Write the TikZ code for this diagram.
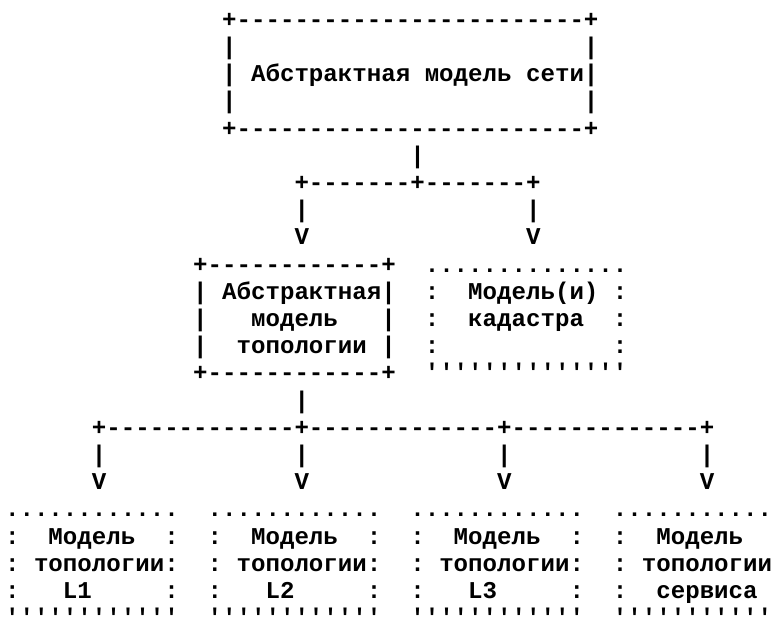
\documentclass[tikz,border=0pt]{standalone}
\usepackage{fontspec}
\setmonofont{Liberation Mono}
\frenchspacing

\begin{document}
\begin{tikzpicture}[x=6pt, y=-11.28pt,
    ascii/.style={anchor=base west, inner sep=0pt, outer sep=0pt, font=\ttfamily\bfseries}]

    \clip (-0.35,0) rectangle (53.13,22.68);

    % top box
    \node[ascii] (n1) at (15,1) {+------------------------+};
    \node[ascii] (n2a) at (15,2) {|};
    \node[ascii] (n2b) at (40,2) {|};
    \node[ascii] (n3) at (15,3) {|~Абстрактная модель сети|};
    \node[ascii] (n4a) at (15,4) {|};
    \node[ascii] (n4b) at (40,4) {|};
    \node[ascii] (n5) at (15,5) {+------------------------+};

    % first split
    \node[ascii] (n6) at (28,6) {|};
    \node[ascii] (n7) at (20,7) {+-------+-------+};
    \node[ascii] (n8a) at (20,8) {|};
    \node[ascii] (n8b) at (36,8) {|};
    \node[ascii] (n9a) at (20,9) {V};
    \node[ascii] (n9b) at (36,9) {V};

    % topology box and cadastre box
    \node[ascii] (n10a) at (13,10) {+------------+};
    \node[ascii] (n10b) at (29,10) {..............};
    \node[ascii] (n11a) at (13,11) {|~Абстрактная|};
    \node[ascii] (n11b) at (29,11) {:~~Модель(и)~:};
    \node[ascii] (n12a) at (13,12) {|~~~модель~~~|};
    \node[ascii] (n12b) at (29,12) {:~~кадастра~~:};
    \node[ascii] (n13a) at (13,13) {|~~топологии~|};
    \node[ascii] (n13b) at (29,13) {:~~~~~~~~~~~~:};
    \node[ascii] (n14a) at (13,14) {+------------+};
    \node[ascii] (n14b) at (29,14) {''''''''''''''};

    % second split
    \node[ascii] (n15) at (20,15) {|};
    \node[ascii] (n16) at (6,16) {+-------------+-------------+-------------+};
    \foreach \c in {6,20,34,48} {
        \node[ascii] (n17-\c) at (\c,17) {|};
        \node[ascii] (n18-\c) at (\c,18) {V};
    }

    % bottom boxes
    \node[ascii] (n19a) at (0,19) {............};
    \node[ascii] (n19b) at (14,19) {............};
    \node[ascii] (n19c) at (28,19) {............};
    \node[ascii] (n19d) at (42,19) {...........};
    \node[ascii] (n20a) at (0,20) {:~~Модель~~:};
    \node[ascii] (n20b) at (14,20) {:~~Модель~~:};
    \node[ascii] (n20c) at (28,20) {:~~Модель~~:};
    \node[ascii] (n20d) at (42,20) {:~~Модель};
    \node[ascii] (n21a) at (0,21) {:~топологии:};
    \node[ascii] (n21b) at (14,21) {:~топологии:};
    \node[ascii] (n21c) at (28,21) {:~топологии:};
    \node[ascii] (n21d) at (42,21) {:~топологии};
    \node[ascii] (n22a) at (0,22) {:~~~L1~~~~~:};
    \node[ascii] (n22b) at (14,22) {:~~~L2~~~~~:};
    \node[ascii] (n22c) at (28,22) {:~~~L3~~~~~:};
    \node[ascii] (n22d) at (42,22) {:~~сервиса};
    \node[ascii] (n23a) at (0,23) {''''''''''''};
    \node[ascii] (n23b) at (14,23) {''''''''''''};
    \node[ascii] (n23c) at (28,23) {''''''''''''};
    \node[ascii] (n23d) at (42,23) {'''''''''''};

\end{tikzpicture}
\end{document}
